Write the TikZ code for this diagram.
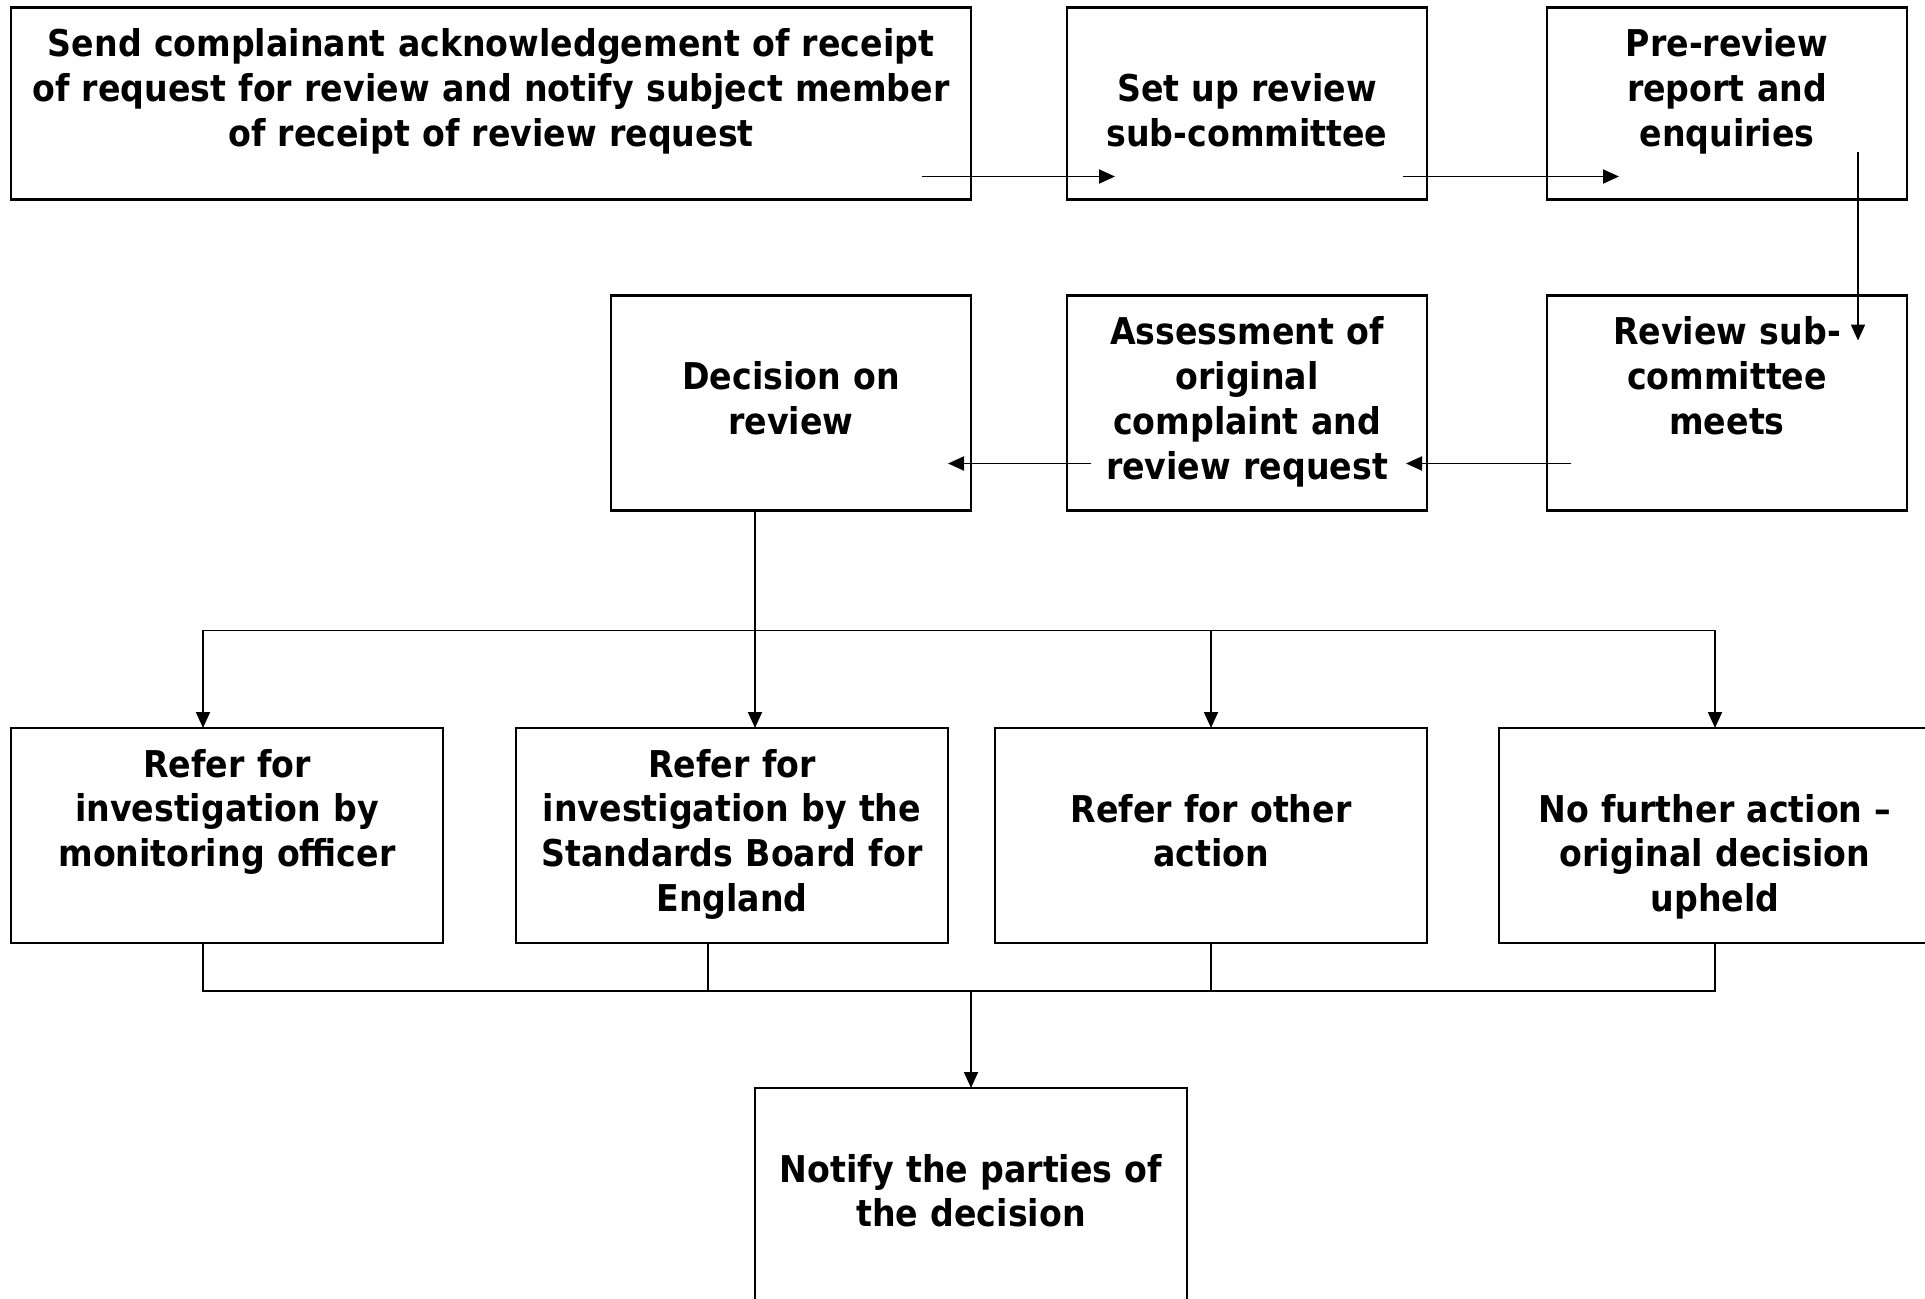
\documentclass[tikz,border=0pt]{standalone}
\usepackage{fontspec}
\setmainfont{DejaVu Sans}[FakeStretch=0.9]
\usetikzlibrary{arrows.meta, positioning}

\begin{document}
\begin{tikzpicture}[
  box/.style={rectangle, draw, line width=0.6pt, inner sep=0pt, outer sep=0pt, align=center,
    text width=#1, font=\bfseries\fontsize{10.5}{12.8}\selectfont},
  upper/.style={text height=0.49cm, text depth=#1},
  lower/.style={text height=0.94cm, text depth=#1},
  link/.style={line width=0.55pt},
  arr/.style={link, -{Triangle[length=0.16cm, width=0.14cm]}},
  node distance=0.96cm,
]
  \useasboundingbox[fill=white] (0,0) rectangle (19.25,-12.99);

  % first row
  \node[box=9.6cm, upper=1.43cm, anchor=north west] (send) at (0.11,-0.075)
    {Send complainant acknowledgement of receipt\\of request for review and notify subject member\\of receipt of review request};
  \node[box=3.6cm, lower=0.98cm, right=0.96cm of send] (setup) {Set up review\\sub-committee};
  \node[box=3.6cm, upper=1.43cm, right=1.2cm of setup] (prerev) {Pre-review\\report and\\enquiries};

  % second row, right to left
  \node[box=3.6cm, upper=1.66cm, below=of prerev] (meets) {Review sub-\\committee\\meets};
  \node[box=3.6cm, upper=1.66cm, left=1.2cm of meets] (assess) {Assessment of\\original\\complaint and\\review request};
  \node[box=3.6cm, lower=1.21cm, left=of assess] (decision) {Decision on\\review};

  % outcomes
  \node[box=4.32cm, upper=1.66cm, anchor=north west] (refmo) at (0.11,-7.28)
    {Refer for\\investigation by\\monitoring officer};
  \node[box=4.32cm, upper=1.66cm, right=0.73cm of refmo] (refsb) {Refer for\\investigation by the\\Standards Board for\\England};
  \node[box=4.32cm, lower=1.21cm, right=0.47cm of refsb] (refother) {Refer for other\\action};
  \node[box=4.32cm, lower=1.21cm, right=0.72cm of refother] (nofurther) {No further action --\\original decision\\upheld};

  \node[box=4.32cm, lower=1.21cm, anchor=north west] (notify) at (7.55,-10.88)
    {Notify the parties of\\the decision};

  % flow along the top rows
  \draw[arr] ([xshift=-0.49cm, yshift=0.23cm]send.south east) -- ([xshift=0.48cm, yshift=0.23cm]setup.south west);
  \draw[arr] ([xshift=-0.24cm, yshift=0.23cm]setup.south east) -- ([xshift=0.72cm, yshift=0.23cm]prerev.south west);
  \draw[arr] ([xshift=-0.49cm, yshift=0.48cm]prerev.south east) -- ([xshift=-0.49cm, yshift=-0.45cm]meets.north east);
  \draw[arr] ([xshift=0.24cm, yshift=0.47cm]meets.south west) -- ([xshift=-0.21cm, yshift=0.47cm]assess.south east);
  \draw[arr] ([xshift=0.24cm, yshift=0.47cm]assess.south west) -- ([xshift=-0.23cm, yshift=0.47cm]decision.south east);

  % split to the outcomes
  \coordinate (fork) at ([xshift=1.44cm, yshift=-1.2cm]decision.south west);
  \draw[link] ([xshift=1.44cm]decision.south west) -- (fork);
  \draw[arr] (fork) -| ([xshift=-0.24cm]refmo.north);
  \draw[arr] (fork) -- (fork |- refsb.north);
  \draw[arr] (fork) -| (refother.north);
  \draw[arr] (fork) -| (nofurther.north);

  % join to the notification
  \coordinate (join) at ([yshift=0.97cm]notify.north);
  \draw[link] ([xshift=-0.24cm]refmo.south) |- (join);
  \draw[link] ([xshift=-0.24cm]refsb.south) |- (join);
  \draw[link] (refother.south) |- (join);
  \draw[link] (nofurther.south) |- (join);
  \draw[arr] (join) -- (notify.north);
\end{tikzpicture}
\end{document}
